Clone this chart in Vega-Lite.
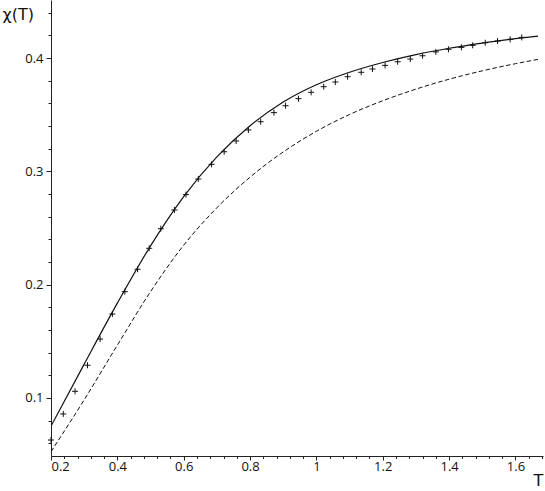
{
  "$schema": "https://vega.github.io/schema/vega-lite/v6.json",
  "width": 492,
  "height": 456,
  "autosize": {"type": "none"},
  "padding": {"left": 51, "top": 0, "right": 2, "bottom": 35},
  "background": "white",
  "config": {
    "view": {"stroke": null},
    "axis": {"grid": false, "labelFont": "Open Sans", "labelFontSize": 13, "labelColor": "#111", "titleFont": "DejaVu Sans", "titleColor": "#111", "titleFontWeight": "normal", "tickColor": "#222", "domainColor": "#222"}
  },
  "datasets": {
    "solid": [
      {"T": 0.2, "chi": 0.0751}, {"T": 0.3, "chi": 0.1299}, {"T": 0.4, "chi": 0.1837}, {"T": 0.5, "chi": 0.2342},
      {"T": 0.6, "chi": 0.2777}, {"T": 0.7, "chi": 0.3127}, {"T": 0.8, "chi": 0.3402}, {"T": 0.9, "chi": 0.3612},
      {"T": 1.0, "chi": 0.37645}, {"T": 1.1, "chi": 0.38745}, {"T": 1.2, "chi": 0.39605}, {"T": 1.3, "chi": 0.403},
      {"T": 1.4, "chi": 0.4086}, {"T": 1.5, "chi": 0.4132}, {"T": 1.6, "chi": 0.41705}, {"T": 1.668, "chi": 0.4194}
    ],
    "dashed": [
      {"T": 0.2, "chi": 0.0526}, {"T": 0.3, "chi": 0.09835}, {"T": 0.4, "chi": 0.1466}, {"T": 0.5, "chi": 0.19385},
      {"T": 0.6, "chi": 0.23485}, {"T": 0.7, "chi": 0.26785}, {"T": 0.8, "chi": 0.29485}, {"T": 0.9, "chi": 0.3171},
      {"T": 1.0, "chi": 0.33535}, {"T": 1.1, "chi": 0.3502}, {"T": 1.2, "chi": 0.3623}, {"T": 1.3, "chi": 0.37255},
      {"T": 1.4, "chi": 0.3813}, {"T": 1.5, "chi": 0.3887}, {"T": 1.6, "chi": 0.395}, {"T": 1.668, "chi": 0.3988}
    ],
    "pts": [
      {"T": 0.2, "chi": 0.0629}, {"T": 0.237, "chi": 0.0859}, {"T": 0.2725, "chi": 0.1059}, {"T": 0.31, "chi": 0.1289},
      {"T": 0.348, "chi": 0.152}, {"T": 0.385, "chi": 0.1741}, {"T": 0.4225, "chi": 0.1938}, {"T": 0.461, "chi": 0.2136},
      {"T": 0.496, "chi": 0.2321}, {"T": 0.531, "chi": 0.2494}, {"T": 0.572, "chi": 0.2659}, {"T": 0.607, "chi": 0.2795},
      {"T": 0.644, "chi": 0.2932}, {"T": 0.684, "chi": 0.3062}, {"T": 0.722, "chi": 0.3173}, {"T": 0.758, "chi": 0.3268},
      {"T": 0.795, "chi": 0.3365}, {"T": 0.832, "chi": 0.3438}, {"T": 0.872, "chi": 0.3518}, {"T": 0.907, "chi": 0.3579},
      {"T": 0.946, "chi": 0.3641}, {"T": 0.984, "chi": 0.3697}, {"T": 1.022, "chi": 0.3747}, {"T": 1.057, "chi": 0.3788},
      {"T": 1.094, "chi": 0.3835}, {"T": 1.135, "chi": 0.3874}, {"T": 1.169, "chi": 0.3903}, {"T": 1.207, "chi": 0.3935},
      {"T": 1.245, "chi": 0.3967}, {"T": 1.283, "chi": 0.3991}, {"T": 1.32, "chi": 0.402}, {"T": 1.36, "chi": 0.4054},
      {"T": 1.398, "chi": 0.4077}, {"T": 1.437, "chi": 0.4094}, {"T": 1.471, "chi": 0.4112}, {"T": 1.509, "chi": 0.4135},
      {"T": 1.546, "chi": 0.415}, {"T": 1.584, "chi": 0.4165}, {"T": 1.619, "chi": 0.4182}
    ]
  },
  "resolve": {"axis": {"x": "independent", "y": "independent"}},
  "layer": [
    {
      "data": {"name": "solid"},
      "mark": {"type": "line", "color": "#111", "strokeWidth": 1.2, "interpolate": "monotone", "clip": true},
      "encoding": {
        "x": {"field": "T", "type": "quantitative", "scale": {"domain": [0.2, 1.683], "nice": false, "zero": false},
          "axis": {"orient": "bottom", "values": [0.2, 0.4, 0.6, 0.8, 1, 1.2, 1.4, 1.6], "format": "~g", "tickSize": 4, "labelPadding": 0, "labelFlush": 5, "labelOverlap": false, "domainWidth": 1,
            "title": "T", "titleFontSize": 16, "titleX": 487, "titleY": 24, "titleAlign": "center", "titleBaseline": "middle", "titleAngle": 0}},
        "y": {"field": "chi", "type": "quantitative", "scale": {"domain": [0.0488, 0.4512], "nice": false, "zero": false},
          "axis": {"orient": "left", "values": [0.1, 0.2, 0.3, 0.4], "format": "~g", "tickSize": 5, "labelPadding": 3, "labelOverlap": false, "domainWidth": 1,
            "title": "χ(T)", "titleFontSize": 16, "titleX": -49, "titleY": 14, "titleAlign": "left", "titleBaseline": "middle", "titleAngle": 0}}
      }
    },
    {
      "data": {"name": "dashed"},
      "mark": {"type": "line", "color": "#111", "strokeWidth": 1, "strokeDash": [4.5, 2.5], "interpolate": "monotone", "clip": true},
      "encoding": {
        "x": {"field": "T", "type": "quantitative", "axis": null},
        "y": {"field": "chi", "type": "quantitative", "axis": null}
      }
    },
    {
      "data": {"name": "pts"},
      "mark": {"type": "point", "shape": "M-1,0H1M0,-1V1", "size": 36, "filled": false, "color": "#111", "strokeWidth": 1, "opacity": 1},
      "encoding": {
        "x": {"field": "T", "type": "quantitative",
          "axis": {"orient": "bottom", "values": [0.24, 0.28, 0.32, 0.36, 0.44, 0.48, 0.52, 0.56, 0.64, 0.68, 0.72, 0.76, 0.84, 0.88, 0.92, 0.96, 1.04, 1.08, 1.12, 1.16, 1.24, 1.28, 1.32, 1.36, 1.44, 1.48, 1.52, 1.56, 1.64, 1.68], "labels": false, "domain": false, "tickSize": 2.5, "title": null}},
        "y": {"field": "chi", "type": "quantitative",
          "axis": {"orient": "left", "values": [0.06, 0.08, 0.12, 0.14, 0.16, 0.18, 0.22, 0.24, 0.26, 0.28, 0.32, 0.34, 0.36, 0.38, 0.42, 0.44], "labels": false, "domain": false, "tickSize": 3, "title": null}}
      }
    }
  ]
}
